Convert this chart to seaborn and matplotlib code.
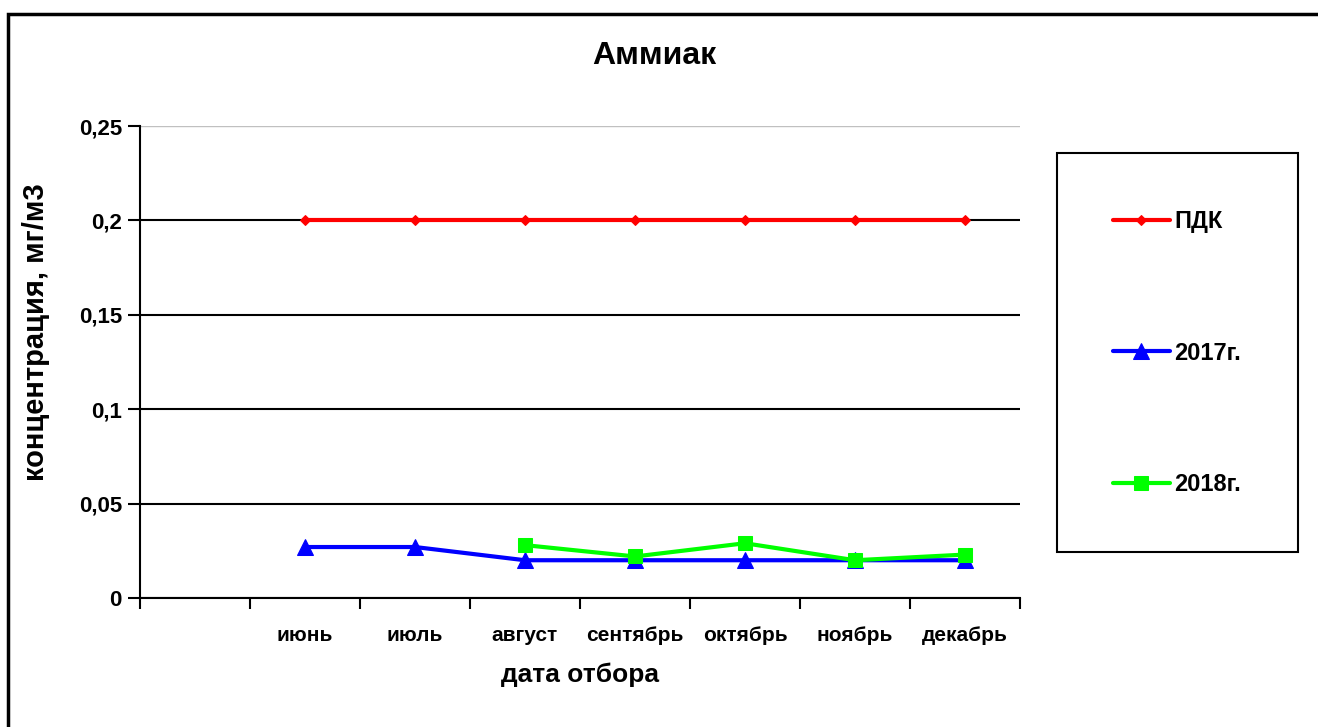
import numpy as np
import pandas as pd
import matplotlib
matplotlib.use("Agg")
import matplotlib.pyplot as plt
from matplotlib.patches import Rectangle
from matplotlib.ticker import FixedLocator, FuncFormatter
import seaborn as sns

# Данные
months = ["", "июнь", "июль", "август", "сентябрь", "октябрь", "ноябрь", "декабрь"]
pdk_months = ["июнь", "июль", "август", "сентябрь", "октябрь", "ноябрь", "декабрь"]
pdk = [0.2, 0.2, 0.2, 0.2, 0.2, 0.2, 0.2]
y2017_months = ["июнь", "июль", "август", "сентябрь", "октябрь", "ноябрь", "декабрь"]
y2017 = [0.027, 0.027, 0.020, 0.020, 0.020, 0.020, 0.020]
y2018_months = ["август", "сентябрь", "октябрь", "ноябрь", "декабрь"]
y2018 = [0.028, 0.022, 0.029, 0.020, 0.023]
yticks = [0, 0.05, 0.1, 0.15, 0.2, 0.25]

sns.set_style("white")
plt.rcParams['font.family'] = ['Liberation Sans', 'DejaVu Sans']
plt.rcParams['font.weight'] = 'bold'
plt.rcParams['text.color'] = 'black'
plt.rcParams['axes.labelcolor'] = 'black'
plt.rcParams['xtick.color'] = 'black'
plt.rcParams['ytick.color'] = 'black'

fig = plt.figure(figsize=(13.18, 7.27), dpi=100)
ax = fig.add_axes([140 / 1318, 1 - 598 / 727, 880 / 1318, 472 / 727])

series = [
    ("ПДК", pdk_months, pdk, "#ff0000", "D", 5),
    ("2017г.", y2017_months, y2017, "#0000ff", "^", 11),
    ("2018г.", y2018_months, y2018, "#00ff00", "s", 10),
]
for name, ms, vals, color, marker, msize in series:
    df = pd.DataFrame({"pos": [months.index(m) for m in ms], "val": vals})
    sns.lineplot(data=df, x="pos", y="val", ax=ax, color=color, marker=marker,
                 markersize=msize, markeredgecolor=color, linewidth=3, label=name)

ax.set_xlim(-0.5, len(months) - 0.5)
ax.set_ylim(0, 0.25)
ax.xaxis.set_major_locator(FixedLocator(np.arange(-0.5, len(months), 1.0)))
ax.xaxis.set_major_formatter(FuncFormatter(lambda v, p: ""))
ax.set_xticks(np.arange(len(months)), months, minor=True)
ax.tick_params(axis="x", which="minor", bottom=True, length=0, pad=20, labelsize=15)
ax.tick_params(axis="x", which="major", bottom=True, length=8, width=1.5, direction="out")
ax.set_yticks(yticks)
ax.yaxis.set_major_formatter(FuncFormatter(lambda v, p: f"{v:g}".replace(".", ",")))
ax.tick_params(axis="y", left=True, length=9, width=1.5, direction="out", labelsize=16, pad=4)

ax.grid(axis="y", color="black", linewidth=1.5)
ax.get_ygridlines()[-1].set_color("#c0c0c0")
ax.get_ygridlines()[-1].set_linewidth(1)
ax.set_axisbelow(True)
for s in ["top", "right"]:
    ax.spines[s].set_visible(False)
for s in ["left", "bottom"]:
    ax.spines[s].set_color("black")
    ax.spines[s].set_linewidth(1.5)

ax.set_xlabel("дата отбора", fontsize=19, fontweight="bold", labelpad=13)
ax.set_ylabel("концентрация, мг/м3", fontsize=21, fontweight="bold")
ax.yaxis.set_label_coords((50 - 140) / 880, (598 - 332) / 472)
fig.text(654 / 1318, 1 - 56 / 727, "Аммиак", ha="center", va="center",
         fontsize=23, fontweight="bold")

# рамка легенды и внешняя рамка
fig.patches.append(Rectangle((1057 / 1318, 1 - 552 / 727), 241 / 1318, 399 / 727,
                             transform=fig.transFigure, fill=False, edgecolor="black", linewidth=1.5))
fig.patches.append(Rectangle((8 / 1318, -0.1), 1.2, 1 - 14 / 727 + 0.1,
                             transform=fig.transFigure, fill=False, edgecolor="black", linewidth=2.5))

ax.legend(loc="upper left", bbox_to_anchor=(1113 / 1318, 1 - 210 / 727),
          bbox_transform=fig.transFigure, frameon=False, borderpad=0, borderaxespad=0,
          labelspacing=4.6, handlelength=2.4, handletextpad=0.2,
          prop={"size": 17, "weight": "bold"})

fig.savefig("out.png", dpi=100)
